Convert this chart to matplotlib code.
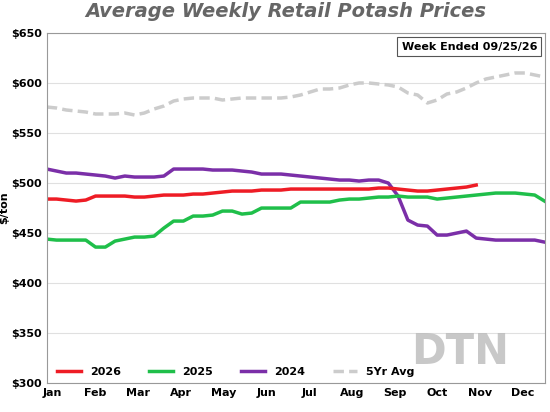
import matplotlib

matplotlib.use("Agg")
import matplotlib.pyplot as plt
import numpy as np

MONTHS = ["Jan", "Feb", "Mar", "Apr", "May", "Jun", "Jul", "Aug", "Sep", "Oct", "Nov", "Dec"]

PRICES_2026 = [484, 484, 483, 482, 483, 487, 487, 487, 487, 486, 486, 487, 488, 488, 488,
               489, 489, 490, 491, 492, 492, 492, 493, 493, 493, 494, 494, 494, 494, 494,
               494, 494, 494, 494, 495, 495, 494, 493, 492, 492, 493, 494, 495, 496, 498]
PRICES_2025 = [444, 443, 443, 443, 443, 436, 436, 442, 444, 446, 446, 447, 455, 462, 462,
               467, 467, 468, 472, 472, 469, 470, 475, 475, 475, 475, 481, 481, 481, 481,
               483, 484, 484, 485, 486, 486, 487, 486, 486, 486, 484, 485, 486, 487, 488,
               489, 490, 490, 490, 489, 488, 482]
PRICES_2024 = [514, 512, 510, 510, 509, 508, 507, 505, 507, 506, 506, 506, 507, 514, 514,
               514, 514, 513, 513, 513, 512, 511, 509, 509, 509, 508, 507, 506, 505, 504,
               503, 503, 502, 503, 503, 500, 487, 463, 458, 457, 448, 448, 450, 452, 445,
               444, 443, 443, 443, 443, 443, 441]
PRICES_5YR = [576, 575, 573, 572, 571, 569, 569, 569, 570, 568, 570, 574, 577, 582, 584,
              585, 585, 585, 583, 584, 585, 585, 585, 585, 585, 586, 588, 591, 594, 594,
              595, 598, 600, 600, 599, 598, 596, 590, 588, 580, 583, 589, 591, 595, 600,
              604, 606, 608, 610, 610, 608, 606]

fig, ax = plt.subplots(figsize=(5.5, 4.12), dpi=100)
fig.subplots_adjust(left=0.085, right=0.99, top=0.92, bottom=0.07)

ax.plot(np.arange(len(PRICES_5YR)), PRICES_5YR, color="#cccccc", lw=2.5, ls=(0, (3, 1.5)), label="5Yr Avg")
ax.plot(np.arange(len(PRICES_2024)), PRICES_2024, color="#7b2fa8", lw=2.5, label="2024")
ax.plot(np.arange(len(PRICES_2025)), PRICES_2025, color="#1fbf4a", lw=2.5, label="2025")
ax.plot(np.arange(len(PRICES_2026)), PRICES_2026, color="#ee1c25", lw=2.5, label="2026")

ax.set_xlim(0, 51)
ax.set_ylim(300, 650)
ax.set_yticks(range(300, 651, 50))
ax.set_yticklabels([f"${v}" for v in range(300, 651, 50)], fontsize=8, fontweight="bold")
ax.set_xticks([0.6 + i * 4.38 for i in range(12)])
ax.set_xticklabels(MONTHS, fontsize=8, fontweight="bold")
ax.tick_params(length=0)
ax.set_ylabel("$/ton", fontsize=8, fontweight="bold", labelpad=1)
ax.grid(axis="y", color="#e0e0e0", lw=0.8)
for s in ax.spines.values():
    s.set_color("#999999")

handles, labels = ax.get_legend_handles_labels()
order = [3, 2, 1, 0]
ax.legend([handles[i] for i in order], [labels[i] for i in order], loc="lower left",
          ncol=4, frameon=False, prop={"weight": "bold", "size": 8},
          handlelength=2.2, columnspacing=2.5, bbox_to_anchor=(0.0, -0.01))

ax.text(0.985, 0.975, "Week Ended 09/25/26", transform=ax.transAxes, ha="right", va="top",
        fontsize=8, fontweight="bold",
        bbox=dict(facecolor="white", edgecolor="#555555", lw=0.8, pad=3))
ax.text(0.83, 0.03, "DTN", transform=ax.transAxes, ha="center", va="bottom",
        fontsize=30, fontweight="bold", color="#bbbbbb", alpha=0.8)

fig.suptitle("Average Weekly Retail Potash Prices", fontsize=14, fontweight="bold",
             style="italic", color="#666666", x=0.52, y=0.995)

fig.savefig("out.png", dpi=100)
